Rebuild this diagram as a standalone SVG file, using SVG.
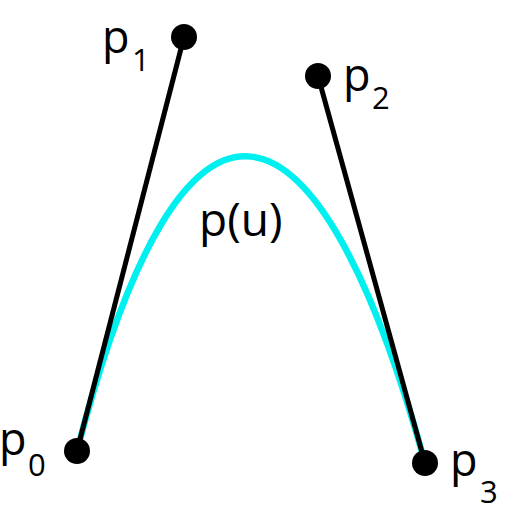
<svg xmlns="http://www.w3.org/2000/svg" width="512" height="512" viewBox="0 0 512 512">
<style>
.lbl{font-family:"Open Sans","Liberation Sans",sans-serif;font-size:45px;fill:#000}
.sub{font-family:"Open Sans","Liberation Sans",sans-serif;font-size:31px;fill:#000}
.ctl{stroke:#000;stroke-width:5;fill:none}
.pt{fill:#000}
</style>
<rect width="512" height="512" fill="#fff"/>
<g id="curve">
<path d="M77,451 C184,37 318,76 425,463" fill="none" stroke="#00f0f0" stroke-width="6.5"/>
</g>
<g id="connectors">
<line class="ctl" x1="77" y1="451" x2="184" y2="37"/>
<line class="ctl" x1="318" y1="76" x2="425" y2="463"/>
</g>
<g id="p0"><circle class="pt" cx="77" cy="451" r="13"/><text class="lbl" x="-1" y="455">p</text><text class="sub" x="28" y="476">0</text></g>
<g id="p1"><circle class="pt" cx="184" cy="37" r="13"/><text class="lbl" x="102" y="53">p</text><text class="sub" x="132" y="71">1</text></g>
<g id="p2"><circle class="pt" cx="318" cy="76" r="13"/><text class="lbl" x="343" y="91">p</text><text class="sub" x="372" y="109">2</text></g>
<g id="p3"><circle class="pt" cx="425" cy="463" r="13"/><text class="lbl" x="450" y="476">p</text><text class="sub" x="480" y="503">3</text></g>
<g id="pu"><text class="lbl" x="199" y="236" style="font-size:46px">p(u)</text></g>
</svg>
